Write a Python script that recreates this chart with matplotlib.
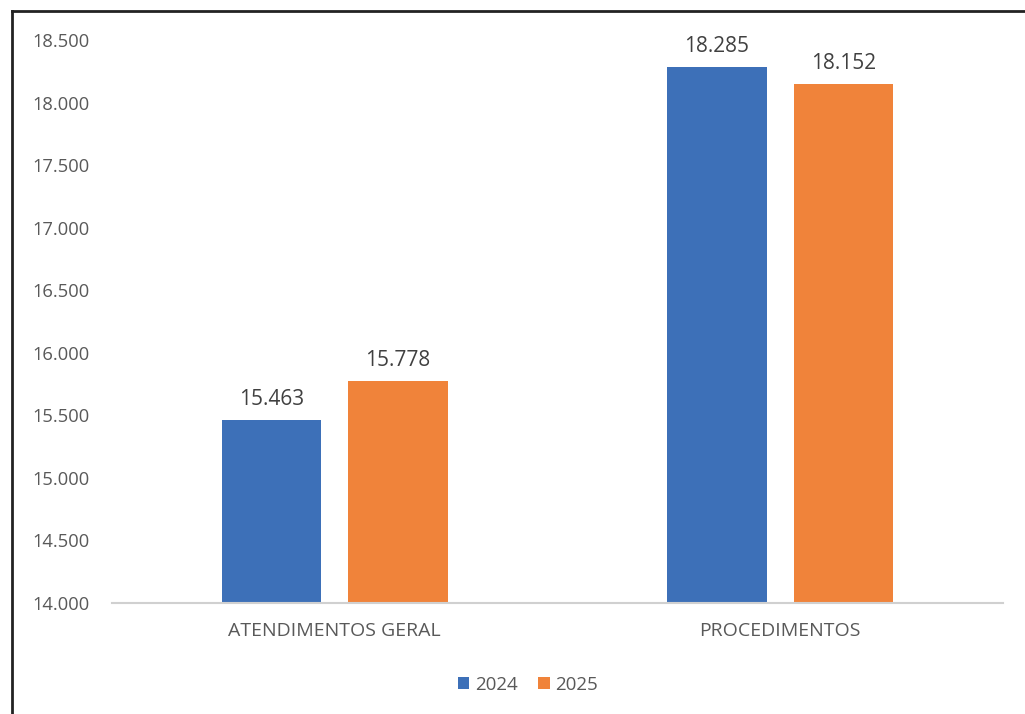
import matplotlib
matplotlib.use("Agg")
import matplotlib.pyplot as plt
from matplotlib.lines import Line2D
import numpy as np

# data
categories = ["ATENDIMENTOS GERAL", "PROCEDIMENTOS"]
years = ["2024", "2025"]
values_2024 = [15463, 18285]
values_2025 = [15778, 18152]
yticks = [14000, 14500, 15000, 15500, 16000, 16500, 17000, 17500, 18000, 18500]

blue = "#3d70b8"
orange = "#f0833a"
txt = "#595959"

plt.rcParams["font.family"] = ["Open Sans", "DejaVu Sans"]

fig = plt.figure(figsize=(10.25, 7.14), dpi=100)
ax = fig.add_axes([112 / 1025, 1 - 603 / 714, (1003 - 112) / 1025, (603 - 40) / 714])

x = np.arange(len(categories))
w = 0.224
off = 0.142
b1 = ax.bar(x - off, values_2024, w, color=blue, label=years[0])
b2 = ax.bar(x + off, values_2025, w, color=orange, label=years[1])

def fmt(v):
    return f"{v:,}".replace(",", ".")

for bars, vals in [(b1, values_2024), (b2, values_2025)]:
    for r, v in zip(bars, vals):
        ax.annotate(fmt(v), (r.get_x() + r.get_width() / 2, v), xytext=(0, 7),
                    textcoords="offset points", ha="center", va="bottom",
                    fontsize=15, color="#404040")

ax.set_xlim(-0.5, 1.5)
ax.set_ylim(14000, 18500)
ax.set_yticks(yticks)
ax.set_yticklabels([fmt(t) for t in yticks])
ax.set_xticks(x)
ax.set_xticklabels(categories)
ax.tick_params(axis="y", length=0, labelsize=13.2, labelcolor=txt, pad=16)
ax.tick_params(axis="x", length=0, labelsize=14, labelcolor=txt, pad=14)
for s in ["top", "right", "left"]:
    ax.spines[s].set_visible(False)
ax.spines["bottom"].set_color("#d0d0d0")
ax.spines["bottom"].set_linewidth(1.5)

leg = ax.legend(loc="center", bbox_to_anchor=(528 / 1025, 1 - 685 / 714),
                bbox_transform=fig.transFigure, ncol=2, frameon=False,
                fontsize=13.5, handlelength=0.6, handleheight=0.6,
                handletextpad=0.3, columnspacing=1.1)
for t in leg.get_texts():
    t.set_color(txt)

# border
fig.add_artist(Line2D([12 / 1025, 12 / 1025], [0, 1 - 11 / 714], color="#222222", lw=2))
fig.add_artist(Line2D([12 / 1025, 1], [1 - 11 / 714, 1 - 11 / 714], color="#222222", lw=2))

fig.savefig("out.png", dpi=100)
